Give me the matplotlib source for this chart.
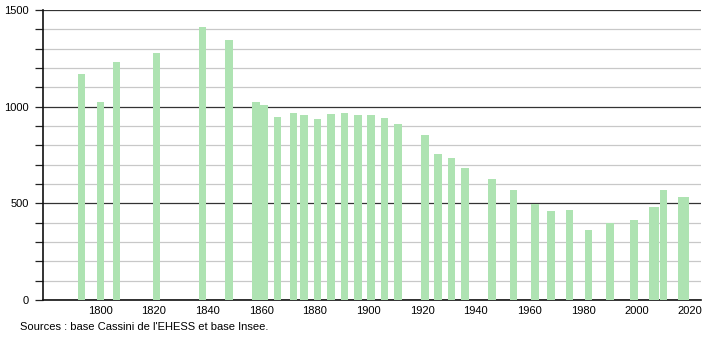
import matplotlib
matplotlib.use("Agg")
import matplotlib.pyplot as plt
from matplotlib.ticker import MultipleLocator

plt.rcParams['font.family'] = ['Liberation Sans', 'DejaVu Sans']

years = [1793, 1800, 1806, 1821, 1838, 1848, 1858, 1861, 1866, 1872, 1876, 1881,
         1886, 1891, 1896, 1901, 1906, 1911, 1921, 1926, 1931, 1936, 1946, 1954,
         1962, 1968, 1975, 1982, 1990, 1999, 2006, 2007, 2010, 2017, 2018]
population = [1169, 1025, 1231, 1276, 1410, 1346, 1022, 1009, 946, 967, 957, 934,
              962, 967, 955, 955, 941, 912, 853, 755, 734, 681, 624, 569,
              497, 461, 466, 362, 397, 416, 481, 481, 567, 534, 534]
x_ticks = [1800, 1820, 1840, 1860, 1880, 1900, 1920, 1940, 1960, 1980, 2000, 2020]
y_ticks = [0, 500, 1000, 1500]
source = "Sources : base Cassini de l'EHESS et base Insee."

fig = plt.figure(figsize=(7.1, 3.4), dpi=100)
ax = fig.add_axes([43/710, 40/340, 658/710, 290/340])

ax.bar(years, population, width=2.8, color='#aee3b2', zorder=3, linewidth=0)

ax.set_xlim(1778.6, 2024)
ax.set_ylim(0, 1500)
ax.set_xticks(x_ticks)
ax.set_yticks(y_ticks)
ax.yaxis.set_minor_locator(MultipleLocator(100))
ax.grid(which='minor', axis='y', color='#c8c8c8', linewidth=0.9, zorder=1)
ax.grid(which='major', axis='y', color='#333333', linewidth=0.9, zorder=2)
ax.tick_params(axis='y', which='both', length=6, width=0.9, color='#222222',
               labelsize=8, pad=4)
ax.tick_params(axis='x', which='both', length=0, labelsize=8, pad=4)
for s in ['top', 'right']:
    ax.spines[s].set_visible(False)
ax.spines['left'].set_linewidth(1.2)
ax.spines['bottom'].set_linewidth(1.2)
ax.spines['left'].set_color('#111111')
ax.spines['bottom'].set_color('#111111')

fig.text(20/710, 1 - 327/340, source, fontsize=8, ha='left', va='center')

fig.savefig('out.png', dpi=100)
